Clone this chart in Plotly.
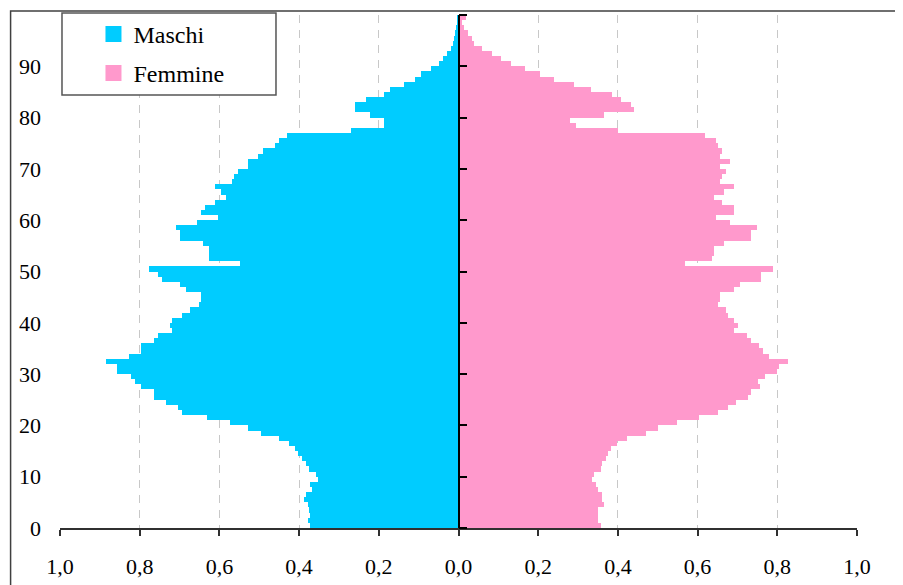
import plotly.graph_objects as go

ages = list(range(100))

maschi = [0.372, 0.377, 0.373, 0.376, 0.377, 0.387, 0.382, 0.368, 0.372, 0.353,
          0.357, 0.376, 0.382, 0.392, 0.402, 0.410, 0.425, 0.450, 0.495, 0.528,
          0.573, 0.631, 0.693, 0.704, 0.734, 0.764, 0.764, 0.796, 0.812, 0.822,
          0.857, 0.857, 0.884, 0.827, 0.796, 0.796, 0.764, 0.754, 0.719, 0.724,
          0.719, 0.693, 0.673, 0.651, 0.646, 0.646, 0.683, 0.698, 0.744, 0.754,
          0.776, 0.548, 0.626, 0.626, 0.626, 0.641, 0.698, 0.698, 0.709, 0.656,
          0.603, 0.646, 0.636, 0.611, 0.583, 0.595, 0.611, 0.568, 0.563, 0.553,
          0.528, 0.528, 0.503, 0.490, 0.460, 0.450, 0.430, 0.269, 0.188, 0.188,
          0.221, 0.259, 0.259, 0.231, 0.188, 0.171, 0.138, 0.108, 0.093, 0.068,
          0.050, 0.040, 0.030, 0.020, 0.015, 0.012, 0.010, 0.006, 0.004, 0.003]

femmine = [0.357, 0.350, 0.350, 0.350, 0.366, 0.361, 0.359, 0.350, 0.345, 0.335,
           0.340, 0.357, 0.360, 0.371, 0.376, 0.382, 0.397, 0.422, 0.470, 0.500,
           0.548, 0.603, 0.651, 0.676, 0.696, 0.726, 0.735, 0.757, 0.752, 0.768,
           0.800, 0.805, 0.828, 0.780, 0.765, 0.755, 0.735, 0.725, 0.692, 0.702,
           0.692, 0.677, 0.672, 0.652, 0.657, 0.655, 0.692, 0.707, 0.760, 0.760,
           0.790, 0.569, 0.637, 0.640, 0.642, 0.667, 0.735, 0.735, 0.750, 0.682,
           0.647, 0.692, 0.692, 0.662, 0.642, 0.667, 0.692, 0.657, 0.662, 0.672,
           0.657, 0.682, 0.657, 0.662, 0.652, 0.647, 0.619, 0.400, 0.296, 0.281,
           0.364, 0.440, 0.434, 0.409, 0.384, 0.332, 0.291, 0.239, 0.204, 0.166,
           0.131, 0.106, 0.083, 0.058, 0.040, 0.033, 0.023, 0.013, 0.008, 0.018]

x_tickvals = [-1.0, -0.8, -0.6, -0.4, -0.2, 0.0, 0.2, 0.4, 0.6, 0.8, 1.0]
x_ticktext = ["1,0", "0,8", "0,6", "0,4", "0,2", "0,0", "0,2", "0,4", "0,6", "0,8", "1,0"]
y_tickvals = [0, 10, 20, 30, 40, 50, 60, 70, 80, 90]
y_center_ticks = [0, 10, 20, 30, 40, 50, 60, 70, 80, 90, 100]

BLUE = "#00CCFF"
PINK = "#FF99CC"
FONT = "'Liberation Serif', 'DejaVu Serif', serif"

fig = go.Figure()
fig.add_trace(go.Bar(y=ages, x=[-v for v in maschi], orientation="h", width=1, offset=0,
                     marker=dict(color=BLUE, line=dict(width=0)), showlegend=False,
                     name="Maschi", customdata=maschi,
                     hovertemplate="Età %{y}: %{customdata}<extra>Maschi</extra>"))
fig.add_trace(go.Bar(y=ages, x=femmine, orientation="h", width=1, offset=0,
                     marker=dict(color=PINK, line=dict(width=0)), showlegend=False,
                     name="Femmine", yaxis="y2",
                     hovertemplate="Età %{y}: %{x}<extra>Femmine</extra>"))
# legend entries
fig.add_trace(go.Scatter(x=[None], y=[None], mode="markers", name="Maschi",
                         marker=dict(symbol="square", size=16, color=BLUE), legend="legend"))
fig.add_trace(go.Scatter(x=[None], y=[None], mode="markers", name="Femmine",
                         marker=dict(symbol="square", size=16, color=PINK), legend="legend2"))

fig.update_layout(
    width=903, height=585,
    margin=dict(l=52, r=54, t=7, b=65, autoexpand=False),
    paper_bgcolor="white", plot_bgcolor="white",
    barmode="overlay", bargap=0,
    font=dict(family=FONT, size=22, color="black"),
    xaxis=dict(range=[-1, 1], tickvals=x_tickvals, ticktext=x_ticktext, automargin=False,
               showgrid=True, gridcolor="#c8c8c8", gridwidth=1, griddash="8px,7px",
               zeroline=False, showline=True, linecolor="#303030", linewidth=1.5,
               ticks="outside", ticklen=6, tickcolor="#303030", tickwidth=1.5,
               ticklabelstandoff=12, tickfont=dict(size=22, family=FONT)),
    yaxis=dict(range=[0, 100], tickvals=y_tickvals, showgrid=False, zeroline=False,
               showline=False, ticks="", ticklabelstandoff=18, automargin=False,
               tickfont=dict(size=22, family=FONT)),
    yaxis2=dict(range=[0, 100], overlaying="y", anchor="free", position=0.5, side="right",
                tickvals=y_center_ticks, showticklabels=False, showgrid=False, zeroline=False,
                showline=True, linecolor="black", linewidth=1.5, automargin=False,
                ticks="outside", ticklen=8, tickcolor="black", tickwidth=1.5),
    legend=dict(x=0.042, y=0.962, xanchor="left", yanchor="middle",
                bgcolor="rgba(0,0,0,0)", font=dict(size=24, family=FONT, color="black")),
    legend2=dict(x=0.042, y=0.886, xanchor="left", yanchor="middle",
                 bgcolor="rgba(0,0,0,0)", font=dict(size=24, family=FONT, color="black")),
    shapes=[
        dict(type="rect", xref="paper", yref="paper", x0=0.0025, x1=0.271, y0=0.844, y1=1.004,
             line=dict(color="#555555", width=1.5), fillcolor="white", layer="above"),
        dict(type="rect", xref="paper", yref="paper", x0=-0.062, x1=1.3, y0=-0.5, y1=1.0078,
             line=dict(color="#404040", width=1.5), fillcolor="rgba(0,0,0,0)", layer="above"),
    ],
)

fig.write_html("out.html")
